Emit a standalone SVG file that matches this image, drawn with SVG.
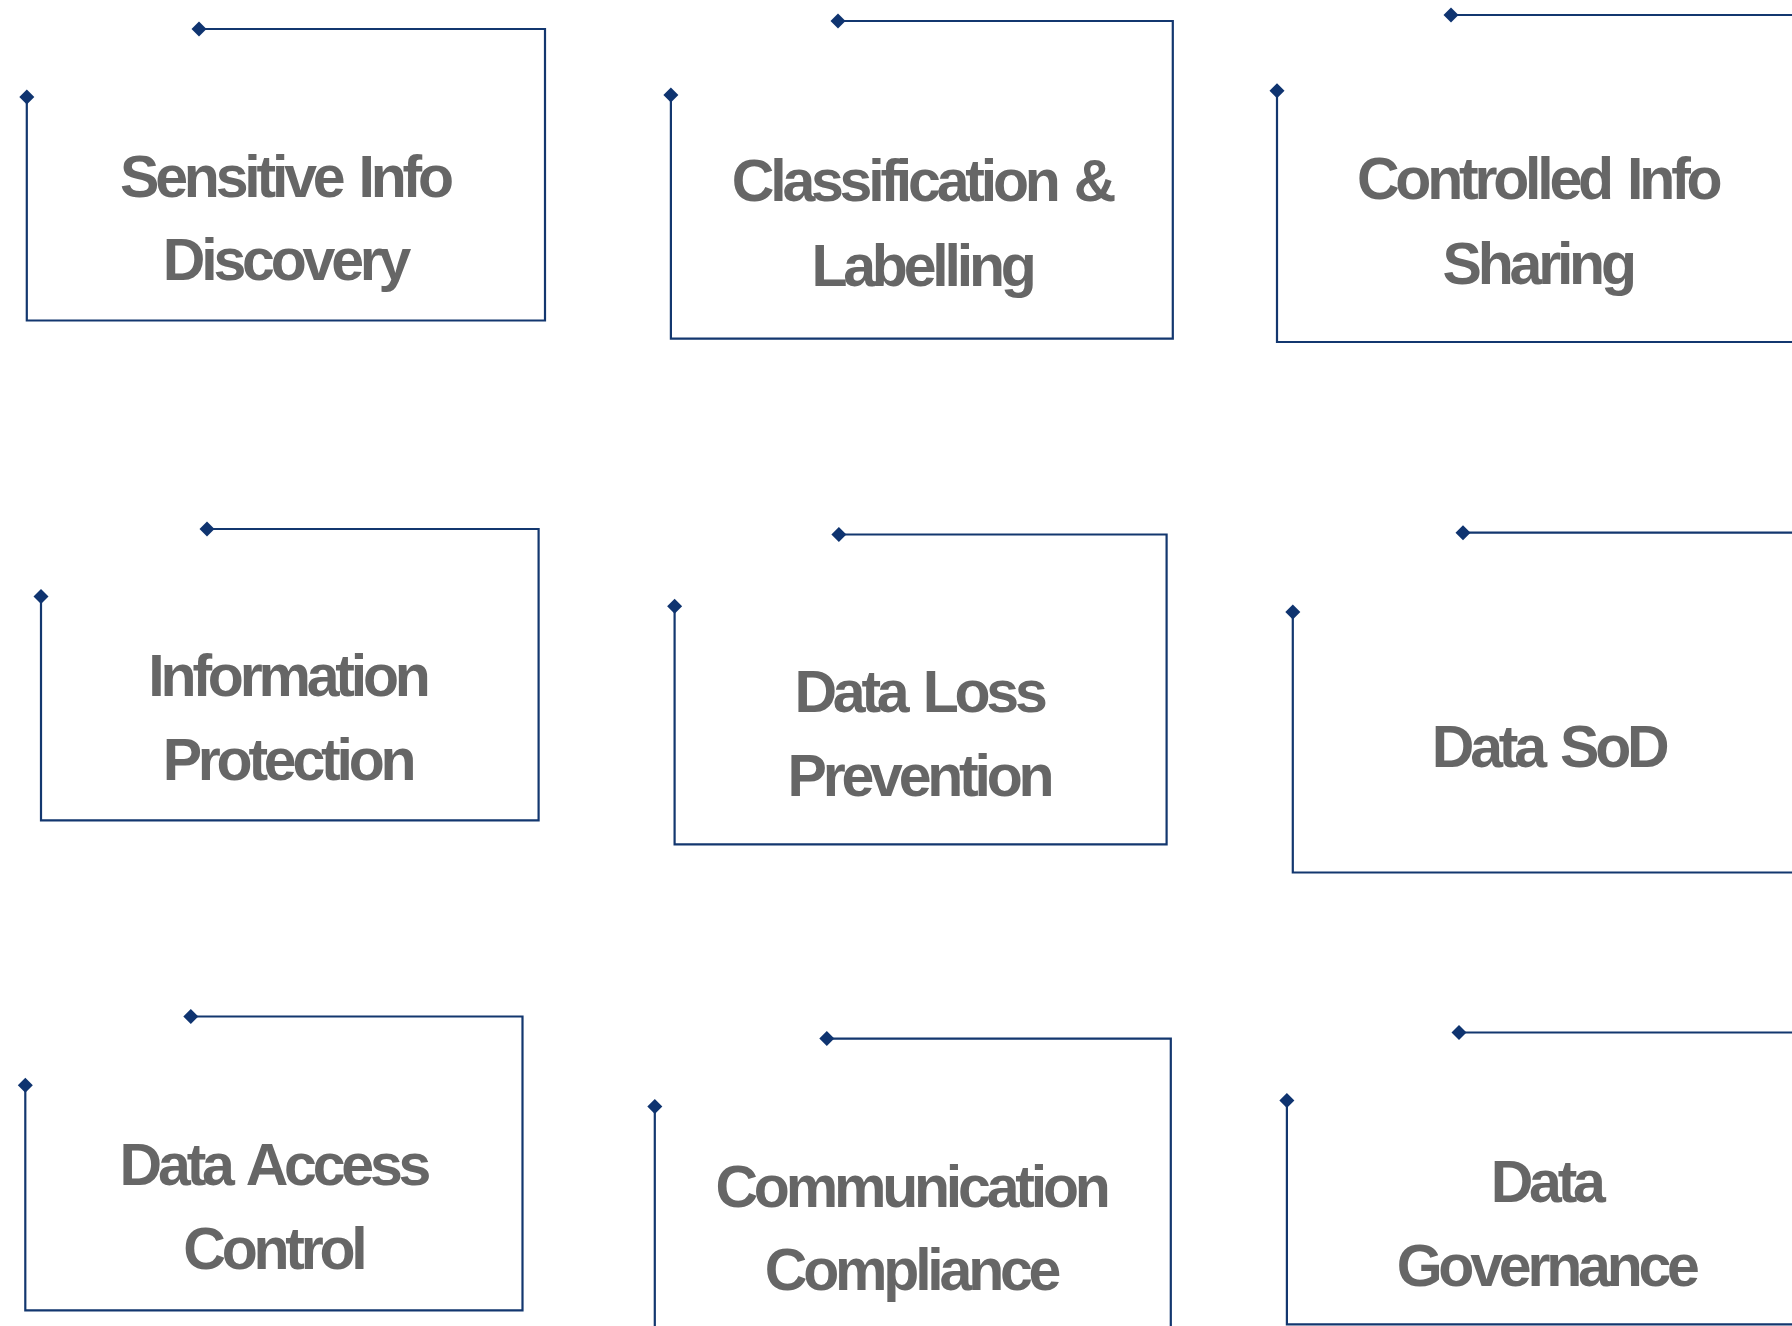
<svg xmlns="http://www.w3.org/2000/svg" width="1792" height="1326" viewBox="0 0 1792 1326">
<style>
.frame{fill:none;stroke:#13376f;stroke-width:2.2;marker-start:url(#dia);marker-end:url(#dia)}
.lbl{font-family:"Liberation Sans",Arial,sans-serif;font-weight:bold;font-size:59px;fill:#666666;letter-spacing:-4.2px;word-spacing:5px;text-anchor:middle}
</style>
<defs>
<marker id="dia" viewBox="-8 -8 16 16" markerWidth="16" markerHeight="16" markerUnits="userSpaceOnUse" refX="0" refY="0" orient="0">
<path d="M0,-7.5 L7.5,0 L0,7.5 L-7.5,0 Z" fill="#0f3470"/>
</marker>
</defs>
<rect width="1792" height="1326" fill="#ffffff"/>
<g id="connectors"></g>
<g id="node-sensitive-info-discovery">
<path class="frame" d="M199,29 H545 V320.5 H26.8 V97"/>
<text class="lbl" x="285" y="196.7">Sensitive Info</text>
<text class="lbl" x="285" y="280">Discovery</text>
</g>
<g id="node-classification-labelling">
<path class="frame" d="M838,21 H1172.8 V338.7 H670.9 V95"/>
<text class="lbl" x="922" y="201">Classification &amp;</text>
<text class="lbl" x="922" y="285.7">Labelling</text>
</g>
<g id="node-controlled-info-sharing">
<path class="frame" d="M1451,15 H1803 V342 H1277 V90.7"/>
<text class="lbl" x="1537.7" y="199.3">Controlled Info</text>
<text class="lbl" x="1537.7" y="284">Sharing</text>
</g>
<g id="node-information-protection">
<path class="frame" d="M207,529 H538.6 V820.3 H41 V596.5"/>
<text class="lbl" x="287.5" y="696">Information</text>
<text class="lbl" x="287.5" y="780">Protection</text>
</g>
<g id="node-data-loss-prevention">
<path class="frame" d="M838.9,534.5 H1166.6 V844.4 H674.6 V606.3"/>
<text class="lbl" x="919" y="712.3">Data Loss</text>
<text class="lbl" x="919" y="796">Prevention</text>
</g>
<g id="node-data-sod">
<path class="frame" d="M1463,532.7 H1810 V872.5 H1292.8 V612"/>
<text class="lbl" x="1548.7" y="766.7">Data SoD</text>
</g>
<g id="node-data-access-control">
<path class="frame" d="M190.8,1016.5 H522.5 V1310.4 H25.3 V1085.3"/>
<text class="lbl" x="273.4" y="1185">Data Access</text>
<text class="lbl" x="273.4" y="1269.3">Control</text>
</g>
<g id="node-communication-compliance">
<path class="frame" d="M826.8,1038.6 H1170.8 V1340 H654.8 V1106.6"/>
<text class="lbl" x="911" y="1206.7">Communication</text>
<text class="lbl" x="911" y="1290">Compliance</text>
</g>
<g id="node-data-governance">
<path class="frame" d="M1459,1032.5 H1810 V1324.4 H1286.9 V1100.6"/>
<text class="lbl" x="1546.2" y="1201.7">Data</text>
<text class="lbl" x="1546.2" y="1286">Governance</text>
</g>
</svg>
